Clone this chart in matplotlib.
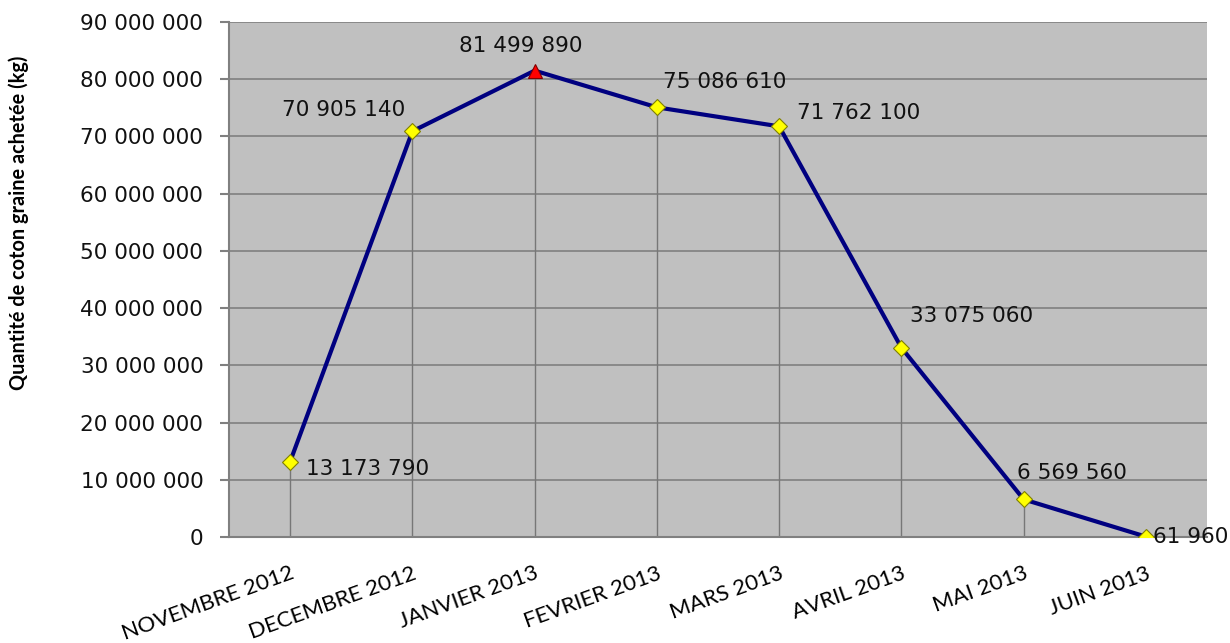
import matplotlib.pyplot as plt
import numpy as np

mois = ["NOVEMBRE 2012", "DECEMBRE 2012", "JANVIER 2013", "FEVRIER 2013",
        "MARS 2013", "AVRIL 2013", "MAI 2013", "JUIN 2013"]
quantites = [13173790, 70905140, 81499890, 75086610,
             71762100, 33075060, 6569560, 61960]
# label offsets in pixels (dx, dy) and alignment
decalages = [(16, -7, "left"), (-69, 21, "center"), (-14, 25, "center"),
             (68, 25, "center"), (18, 13, "left"), (9, 32, "left"),
             (-7, 26, "left"), (7, 0, "left")]

def fmt(v):
    return f"{v:,}".replace(",", " ")

fig = plt.figure(figsize=(12.3, 6.43), dpi=100)
ax = fig.add_axes([0.1862, 0.1649, 0.7951, 0.8009])
ax.set_facecolor("#C0C0C0")

x = np.arange(len(mois))
ax.set_xlim(-0.5, len(mois) - 0.5)
ax.set_ylim(0, 90000000)
ax.set_yticks(np.arange(0, 90000001, 10000000))
ax.set_yticklabels([fmt(v) for v in np.arange(0, 90000001, 10000000)],
                   fontsize=15.5, family="DejaVu Sans", color="#111111")
ax.yaxis.grid(True, color="#808080", lw=1.2)
ax.set_axisbelow(True)

# drop lines
ax.vlines(x, 0, quantites, color="#777777", lw=1, zorder=2)

ax.plot(x, quantites, color="#000080", lw=3, zorder=3)
for i, v in enumerate(quantites):
    if i == 2:
        ax.plot(i, v, marker="^", ms=10, mfc="red", mec="#800000", mew=0.8, zorder=4)
    else:
        ax.plot(i, v, marker="D", ms=8, mfc="yellow", mec="#808000", mew=0.8, zorder=4)
    dx, dy, ha = decalages[i]
    ax.annotate(fmt(v), (i, v), xytext=(dx, dy), textcoords="offset pixels",
                ha=ha, va="center", fontsize=15.5, family="DejaVu Sans",
                color="#111111", zorder=5)

ax.set_xticks(x)
ax.set_xticklabels(mois, rotation=20, ha="right", rotation_mode="anchor",
                   fontsize=16, family="Lato")
ax.tick_params(axis="x", length=0, pad=19)
ax.tick_params(axis="y", length=6.5, width=1.5, color="#808080", pad=12)

for s in ["top", "right"]:
    ax.spines[s].set_visible(False)
for s in ["left", "bottom"]:
    ax.spines[s].set_color("#808080")
    ax.spines[s].set_linewidth(1.5)

ax.set_ylabel("Quantité de coton graine achetée (kg)", fontsize=14.3,
              fontweight="bold", family="Lato")
ax.yaxis.set_label_coords(-0.205, 0.61)

fig.savefig("out.png", dpi=100)
